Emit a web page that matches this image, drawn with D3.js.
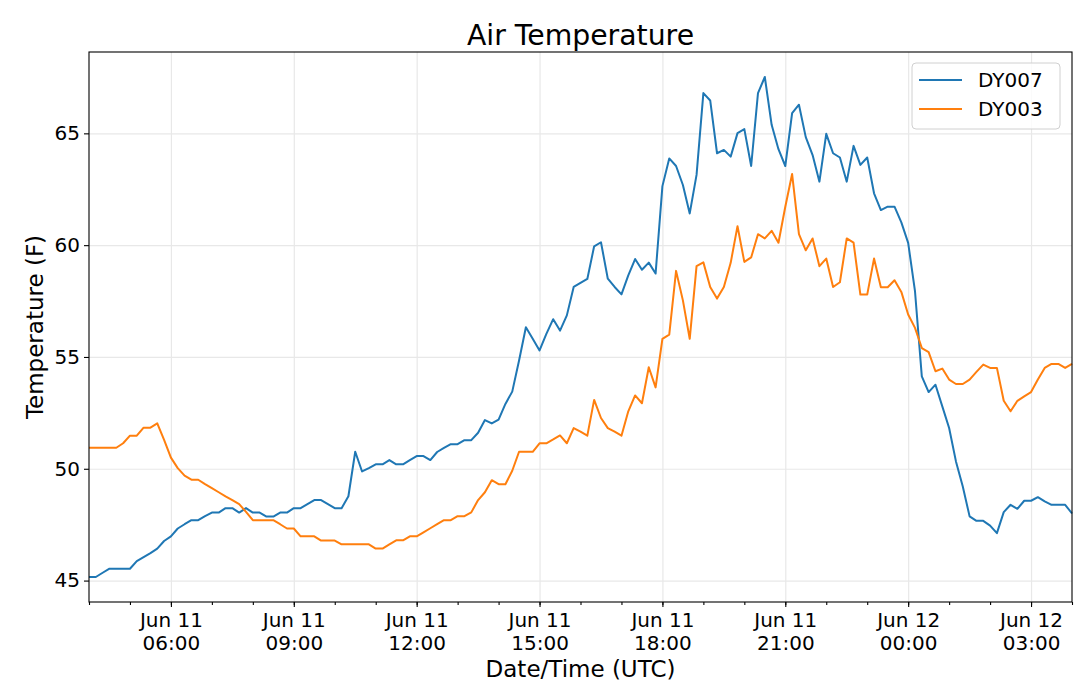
<!DOCTYPE html>
<html>
<head>
<meta charset="utf-8">
<script src="https://cdn.jsdelivr.net/npm/d3@7"></script>
<style>
  body { margin: 0; background: #fff; }
  svg text { font-family: "DejaVu Sans", sans-serif; fill: #000; }
  .grid line { stroke: #e8e8e8; stroke-width: 1.2; }
  .grid path { display: none; }
  .axis path { display: none; }
  .axis line { stroke: #000; stroke-width: 1.1; }
</style>
</head>
<body>
<svg id="chart"></svg>
<script>
// 10-minute observations starting 04:00 UTC, Jun 11
const startTime = "2019-06-11T04:00:00Z";
const stepMinutes = 10;

const seriesNames = ["DY007", "DY003"];

const dy007 = [
  45.16, 45.16, 45.35, 45.53, 45.53, 45.53, 45.53, 45.87, 46.05, 46.23,
  46.43, 46.77, 46.98, 47.33, 47.52, 47.70, 47.70, 47.88, 48.04, 48.04,
  48.24, 48.24, 48.04, 48.24, 48.04, 48.04, 47.86, 47.86, 48.04, 48.04,
  48.24, 48.24, 48.42, 48.60, 48.60, 48.42, 48.24, 48.24, 48.77, 50.76,
  49.88, 50.03, 50.20, 50.20, 50.39, 50.20, 50.20, 50.39, 50.57, 50.57,
  50.39, 50.75, 50.93, 51.10, 51.10, 51.28, 51.28, 51.61, 52.18, 52.03,
  52.20, 52.90, 53.45, 54.84, 56.33, 55.81, 55.29, 56.03, 56.69, 56.18,
  56.86, 58.13, 58.31, 58.49, 59.95, 60.13, 58.50, 58.13, 57.80, 58.65,
  59.38, 58.90, 59.22, 58.73, 62.64, 63.88, 63.54, 62.69, 61.42, 63.14,
  66.80, 66.47, 64.11, 64.26, 63.96, 65.01, 65.19, 63.54, 66.80, 67.52,
  65.38, 64.29, 63.54, 65.90, 66.28, 64.83, 64.03, 62.84, 64.98, 64.11,
  63.92, 62.84, 64.44, 63.59, 63.92, 62.32, 61.57, 61.72, 61.72, 61.02,
  60.10, 57.94, 54.13, 53.43, 53.76, 52.79, 51.82, 50.33, 49.21, 47.87,
  47.67, 47.67, 47.46, 47.12, 48.06, 48.39, 48.21, 48.57, 48.57, 48.73,
  48.54, 48.39, 48.39, 48.39, 48.00
];

const dy003 = [
  50.94, 50.94, 50.94, 50.94, 50.94, 51.14, 51.48, 51.48, 51.84, 51.84,
  52.03, 51.29, 50.50, 50.03, 49.69, 49.51, 49.51, 49.31, 49.13, 48.95,
  48.77, 48.60, 48.42, 48.07, 47.70, 47.70, 47.70, 47.70, 47.52, 47.33,
  47.33, 46.98, 46.98, 46.98, 46.79, 46.79, 46.79, 46.62, 46.62, 46.62,
  46.62, 46.62, 46.43, 46.43, 46.62, 46.80, 46.80, 46.98, 46.98, 47.16,
  47.34, 47.52, 47.70, 47.70, 47.88, 47.88, 48.05, 48.60, 48.95, 49.49,
  49.31, 49.31, 49.91, 50.76, 50.76, 50.76, 51.14, 51.14, 51.31, 51.49,
  51.14, 51.82, 51.66, 51.48, 53.08, 52.27, 51.82, 51.66, 51.48, 52.57,
  53.28, 52.93, 54.54, 53.64, 55.81, 56.00, 58.85, 57.53, 55.81, 59.06,
  59.23, 58.13, 57.61, 58.13, 59.21, 60.85, 59.25, 59.45, 60.49, 60.30,
  60.64, 60.11, 61.72, 63.18, 60.49, 59.77, 60.30, 59.06, 59.40, 58.13,
  58.34, 60.30, 60.11, 57.79, 57.79, 59.40, 58.12, 58.12, 58.43, 57.91,
  56.90, 56.30, 55.40, 55.22, 54.36, 54.48, 53.99, 53.79, 53.79, 53.99,
  54.33, 54.66, 54.51, 54.51, 53.04, 52.57, 53.04, 53.24, 53.43, 53.99,
  54.51, 54.69, 54.69, 54.51, 54.69
];

const yTicks = [45, 50, 55, 60, 65];

class TempChart {
  constructor(_config, _series) {
    this.config = {
      parentElement: _config.parentElement,
      containerWidth: _config.containerWidth || 1080,
      containerHeight: _config.containerHeight || 695,
      margin: { top: 52, bottom: 93, right: 8, left: 89 }
    };
    this.series = _series;
    this.initVis();
  }

  initVis() {
    let vis = this;

    vis.width = vis.config.containerWidth - vis.config.margin.left - vis.config.margin.right;
    vis.height = vis.config.containerHeight - vis.config.margin.top - vis.config.margin.bottom;

    vis.svg = d3.select(vis.config.parentElement)
      .attr('width', vis.config.containerWidth)
      .attr('height', vis.config.containerHeight);

    vis.chart = vis.svg.append('g')
      .attr('transform', `translate(${vis.config.margin.left},${vis.config.margin.top})`);

    vis.xScale = d3.scaleUtc().range([0, vis.width]);
    vis.yScale = d3.scaleLinear().range([vis.height, 0]);

    vis.colors = d3.scaleOrdinal().domain(seriesNames).range(['#1f77b4', '#ff7f0e']);
  }

  updateVis() {
    let vis = this;

    // attach a timestamp to every reading
    const t0 = d3.isoParse(startTime);
    vis.lines = vis.series.map(s => ({
      name: s.name,
      values: s.values.map((v, i) => ({ time: d3.utcMinute.offset(t0, i * stepMinutes), val: v }))
    }));

    const allPts = vis.lines.flatMap(l => l.values);
    vis.xScale.domain(d3.extent(allPts, d => d.time));

    // matplotlib-style 5% padding on y
    const [lo, hi] = d3.extent(allPts, d => d.val);
    const pad = (hi - lo) * 0.05;
    vis.yScale.domain([lo - pad, hi + pad]);

    vis.renderVis();
  }

  renderVis() {
    let vis = this;
    const [xStart, xEnd] = vis.xScale.domain();
    const majorTicks = d3.utcHour.every(3).range(xStart, xEnd).filter(d => d.getUTCHours() % 3 === 0);
    const minorTicks = d3.utcHour.every(1).range(xStart, d3.utcMinute.offset(xEnd, 1));

    // grid
    vis.chart.append('g')
      .attr('class', 'grid')
      .attr('transform', `translate(0,${vis.height})`)
      .call(d3.axisBottom(vis.xScale).tickValues(majorTicks).tickSize(-vis.height).tickFormat(''));
    vis.chart.append('g')
      .attr('class', 'grid')
      .call(d3.axisLeft(vis.yScale).tickValues(yTicks).tickSize(-vis.width).tickFormat(''));

    // lines
    vis.line = d3.line()
      .x(d => vis.xScale(d.time))
      .y(d => vis.yScale(d.val));

    vis.chart.selectAll('.chart-line')
      .data(vis.lines)
      .join('path')
      .attr('class', 'chart-line')
      .attr('fill', 'none')
      .attr('stroke', d => vis.colors(d.name))
      .attr('stroke-width', 2)
      .attr('stroke-linejoin', 'round')
      .attr('d', d => vis.line(d.values));

    // axes
    const fmtDay = d3.utcFormat('%b %d');
    const fmtHour = d3.utcFormat('%H:%M');

    vis.chart.append('g')
      .attr('class', 'axis x-minor')
      .attr('transform', `translate(0,${vis.height})`)
      .call(d3.axisBottom(vis.xScale).tickValues(minorTicks).tickSize(3).tickFormat(''));

    const xAxisG = vis.chart.append('g')
      .attr('class', 'axis x-axis')
      .attr('transform', `translate(0,${vis.height})`)
      .call(d3.axisBottom(vis.xScale).tickValues(majorTicks).tickSize(5).tickPadding(5).tickFormat(''));

    xAxisG.selectAll('.tick').append('text')
      .attr('text-anchor', 'middle')
      .style('font-size', '20px')
      .each(function(d) {
        const t = d3.select(this);
        t.append('tspan').attr('x', 0).attr('y', 25).text(fmtDay(d));
        t.append('tspan').attr('x', 0).attr('y', 48).text(fmtHour(d));
      });

    vis.chart.append('g')
      .attr('class', 'axis y-axis')
      .call(d3.axisLeft(vis.yScale).tickValues(yTicks).tickSize(5).tickPadding(4))
      .selectAll('text')
      .style('font-size', '20px');

    // frame
    vis.chart.append('rect')
      .attr('width', vis.width)
      .attr('height', vis.height)
      .attr('fill', 'none')
      .attr('stroke', '#000')
      .attr('stroke-width', 1.1);

    // titles
    vis.svg.append('text')
      .attr('x', vis.config.margin.left + vis.width / 2)
      .attr('y', 44.5)
      .attr('text-anchor', 'middle')
      .style('font-size', '28.3px')
      .text('Air Temperature');

    vis.svg.append('text')
      .attr('x', vis.config.margin.left + vis.width / 2)
      .attr('y', 677)
      .attr('text-anchor', 'middle')
      .style('font-size', '23px')
      .text('Date/Time (UTC)');

    vis.svg.append('text')
      .attr('transform', `translate(43,${vis.config.margin.top + vis.height / 2}) rotate(-90)`)
      .attr('text-anchor', 'middle')
      .style('font-size', '23px')
      .text('Temperature (F)');

    // legend
    const legend = vis.svg.append('g')
      .attr('transform', 'translate(912,63)');
    legend.append('rect')
      .attr('width', 148)
      .attr('height', 66)
      .attr('rx', 4)
      .attr('fill', '#fff')
      .attr('fill-opacity', 0.8)
      .attr('stroke', '#d0d0d0')
      .attr('stroke-width', 1);

    const items = legend.selectAll('.legend-item')
      .data(seriesNames)
      .join('g')
      .attr('class', 'legend-item')
      .attr('transform', (d, i) => `translate(0,${17 + i * 29})`);
    items.append('line')
      .attr('x1', 7).attr('x2', 50)
      .attr('stroke', d => vis.colors(d))
      .attr('stroke-width', 2);
    items.append('text')
      .attr('x', 66)
      .attr('y', 7)
      .style('font-size', '20px')
      .text(d => d);
  }
}

const chart = new TempChart({ parentElement: '#chart' }, [
  { name: seriesNames[0], values: dy007 },
  { name: seriesNames[1], values: dy003 }
]);
chart.updateVis();
</script>
</body>
</html>
